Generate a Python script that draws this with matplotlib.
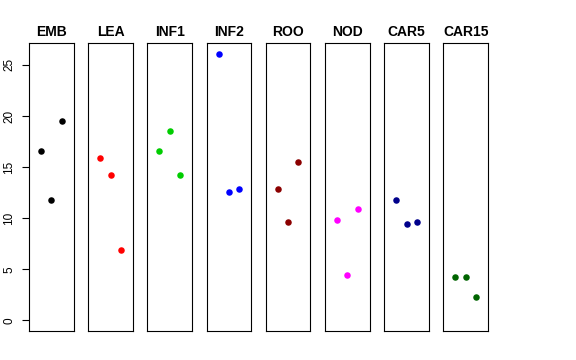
import matplotlib
matplotlib.use("Agg")
import matplotlib.pyplot as plt

plt.rcParams['font.family'] = ['Liberation Sans', 'DejaVu Sans']

tissues = ['EMB', 'LEA', 'INF1', 'INF2', 'ROO', 'NOD', 'CAR5', 'CAR15']
colors = ['black', 'red', '#00CD00', 'blue', '#8B0000', 'magenta', '#00008B', '#006400']
reps = [1, 2, 3]
values = [
    [16.56, 11.77, 19.55],
    [15.90, 14.21, 6.84],
    [16.62, 18.51, 14.24],
    [26.10, 12.55, 12.87],
    [12.87, 9.58, 15.48],
    [9.78, 4.47, 10.89],
    [11.73, 9.38, 9.65],
    [4.24, 4.24, 2.32],
]

W, H = 576, 360
fig = plt.figure(figsize=(W / 100, H / 100), dpi=100)

ymax = max(max(v) for v in values)
ylim = (0 - 0.04 * ymax, ymax * 1.04)
xlim = (0 - 0.16, 4 + 0.16)

left0, step, pw = 29.0, 59.2, 44.6
top, bottom = 43.0, 331.0
for i, (name, col, vals) in enumerate(zip(tissues, colors, values)):
    x0 = left0 + i * step
    ax = fig.add_axes([x0 / W, 1 - bottom / H, pw / W, (bottom - top) / H])
    ax.scatter(reps, vals, s=22, color=col, zorder=3, linewidths=0)
    ax.set_xlim(*xlim)
    ax.set_ylim(*ylim)
    ax.set_xticks([])
    for s in ax.spines.values():
        s.set_linewidth(0.8)
    ax.set_title(name, fontsize=10, fontweight='bold', pad=5)
    if i == 0:
        ax.set_yticks([0, 5, 10, 15, 20, 25])
        ax.tick_params(axis='y', length=5, width=0.8, labelsize=8.5, pad=5)
        for lbl in ax.get_yticklabels():
            lbl.set_rotation(90)
            lbl.set_va('center')
    else:
        ax.set_yticks([])

fig.savefig('out.png', dpi=100)
